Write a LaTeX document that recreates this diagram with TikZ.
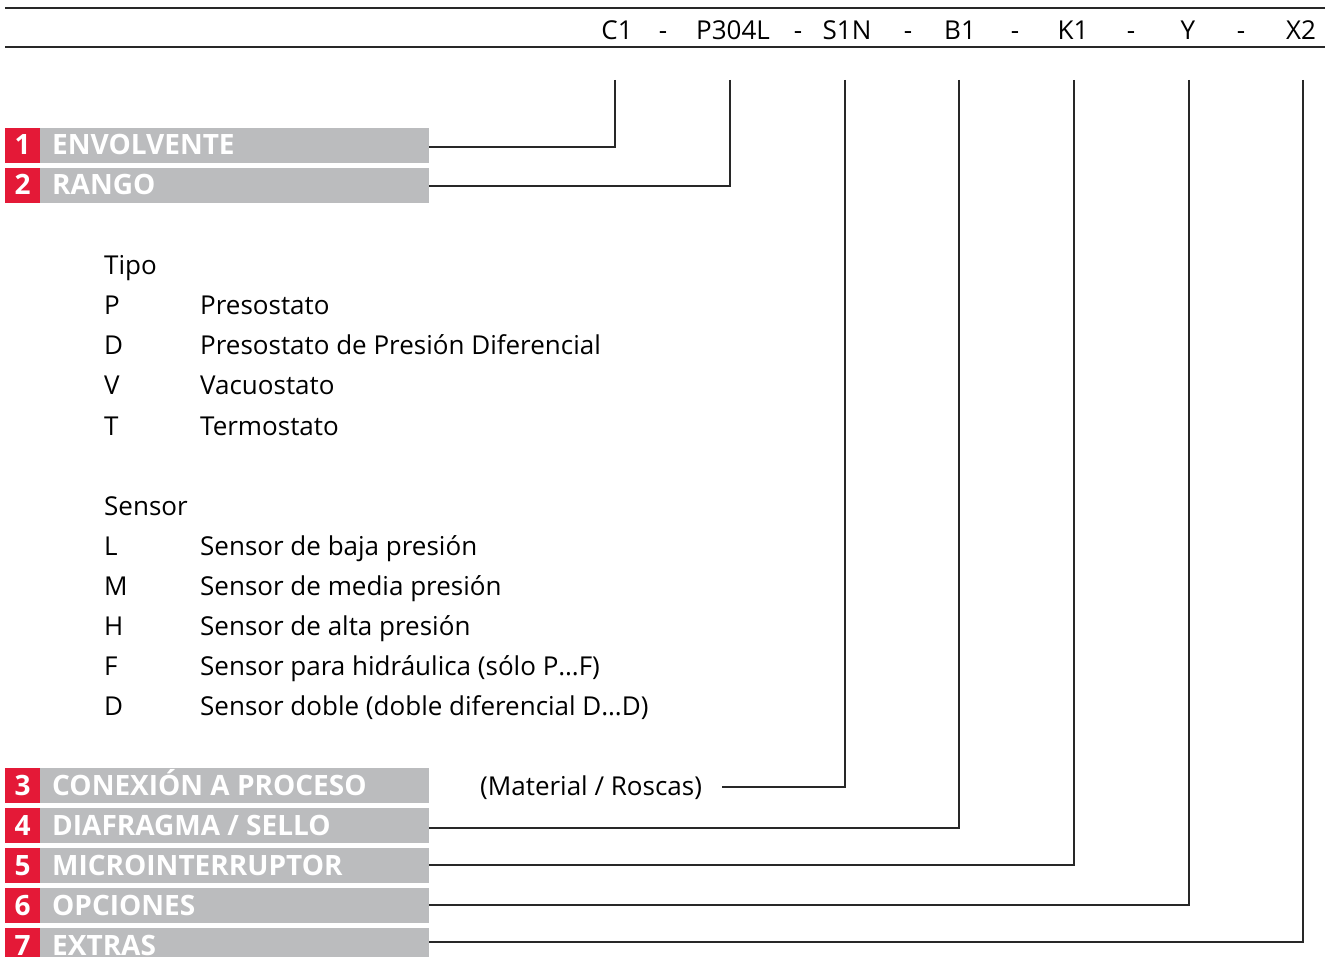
\documentclass[tikz,border=0pt]{standalone}
\usepackage{fontspec}
\setmainfont{Open Sans}
\definecolor{barred}{RGB}{228,25,55}
\definecolor{bargray}{RGB}{187,188,190}
\definecolor{linegray}{RGB}{40,40,40}
\tikzset{
  codetxt/.style={font=\fontsize{26}{28}\selectfont, inner sep=0pt, anchor=base},
  bartxt/.style={font=\fontsize{28}{30}\selectfont\bfseries, text=white, inner sep=0pt, anchor=base},
  listtxt/.style={font=\fontsize{26}{28}\selectfont, inner sep=0pt, anchor=base west},
  lead/.style={linegray, line width=2pt}
}
% number, top of bar, label, height of the leader line
\newcommand{\codebar}[4]{%
  \fill[bargray] (5,#2) rectangle (429,#2+35);
  \fill[barred] (5,#2) rectangle (40,#2+35);
  \node[bartxt] (n#1) at (22.5,#2+27) {#1};
  \node[bartxt, anchor=base west] (t#1) at (52,#2+27) {#3};
  \coordinate (bar#1) at (429,#4);
}
\begin{document}
\begin{tikzpicture}[x=1pt,y=-1pt]
  \useasboundingbox (0,0) rectangle (1325,957);
  % header lines
  \draw[lead] (5,8) -- (1325,8);
  \draw[lead] (5,47) -- (1325,47);
  % model code
  \node[codetxt] (c1) at (617,40) {C1};
  \node[codetxt] at (663,40) {-};
  \node[codetxt] (p304l) at (733,40) {P304L};
  \node[codetxt] at (798,40) {-};
  \node[codetxt] (s1n) at (847,40) {S1N};
  \node[codetxt] at (908,40) {-};
  \node[codetxt] (b1) at (960,40) {B1};
  \node[codetxt] at (1015,40) {-};
  \node[codetxt] (k1) at (1073,40) {K1};
  \node[codetxt] at (1131,40) {-};
  \node[codetxt] (y) at (1188,40) {Y};
  \node[codetxt] at (1241,40) {-};
  \node[codetxt] (x2) at (1301,40) {X2};
  \coordinate (c1top) at (615,80);
  \coordinate (p304ltop) at (730,80);
  \coordinate (s1ntop) at (845,80);
  \coordinate (b1top) at (959,80);
  \coordinate (k1top) at (1074,80);
  \coordinate (ytop) at (1189,80);
  \coordinate (x2top) at (1303,80);
  % bars
  \codebar{1}{128}{ENVOLVENTE}{147}
  \codebar{2}{168}{RANGO}{186}
  \codebar{3}{768}{CONEXIÓN A PROCESO}{786}
  \codebar{4}{808}{DIAFRAGMA / SELLO}{828}
  \codebar{5}{848}{MICROINTERRUPTOR}{865}
  \codebar{6}{888}{OPCIONES}{905}
  \codebar{7}{928}{EXTRAS}{942}
  % tipo / sensor list
  \node[listtxt] at (104,275) {Tipo};
  \foreach \c/\d [count=\i] in {P/Presostato, D/Presostato de Presión Diferencial, V/Vacuostato, T/Termostato}{
    \node[listtxt] at (104,275+40*\i) {\c};
    \node[listtxt] at (200,275+40*\i) {\d};
  }
  \node[listtxt] at (104,515) {Sensor};
  \foreach \c/\d [count=\i] in {L/Sensor de baja presión, M/Sensor de media presión, H/Sensor de alta presión, F/Sensor para hidráulica (sólo P…F), D/Sensor doble (doble diferencial D…D)}{
    \node[listtxt] at (104,515+40*\i) {\c};
    \node[listtxt] at (200,515+40*\i) {\d};
  }
  \node[listtxt] (mat) at (480,795) {(Material / Roscas)};
  \coordinate (matend) at (722,787);
  % leader lines
  \draw[lead] (c1top) |- (bar1);
  \draw[lead] (p304ltop) |- (bar2);
  \draw[lead] (s1ntop) |- (matend);
  \draw[lead] (b1top) |- (bar4);
  \draw[lead] (k1top) |- (bar5);
  \draw[lead] (ytop) |- (bar6);
  \draw[lead] (x2top) |- (bar7);
\end{tikzpicture}
\end{document}
